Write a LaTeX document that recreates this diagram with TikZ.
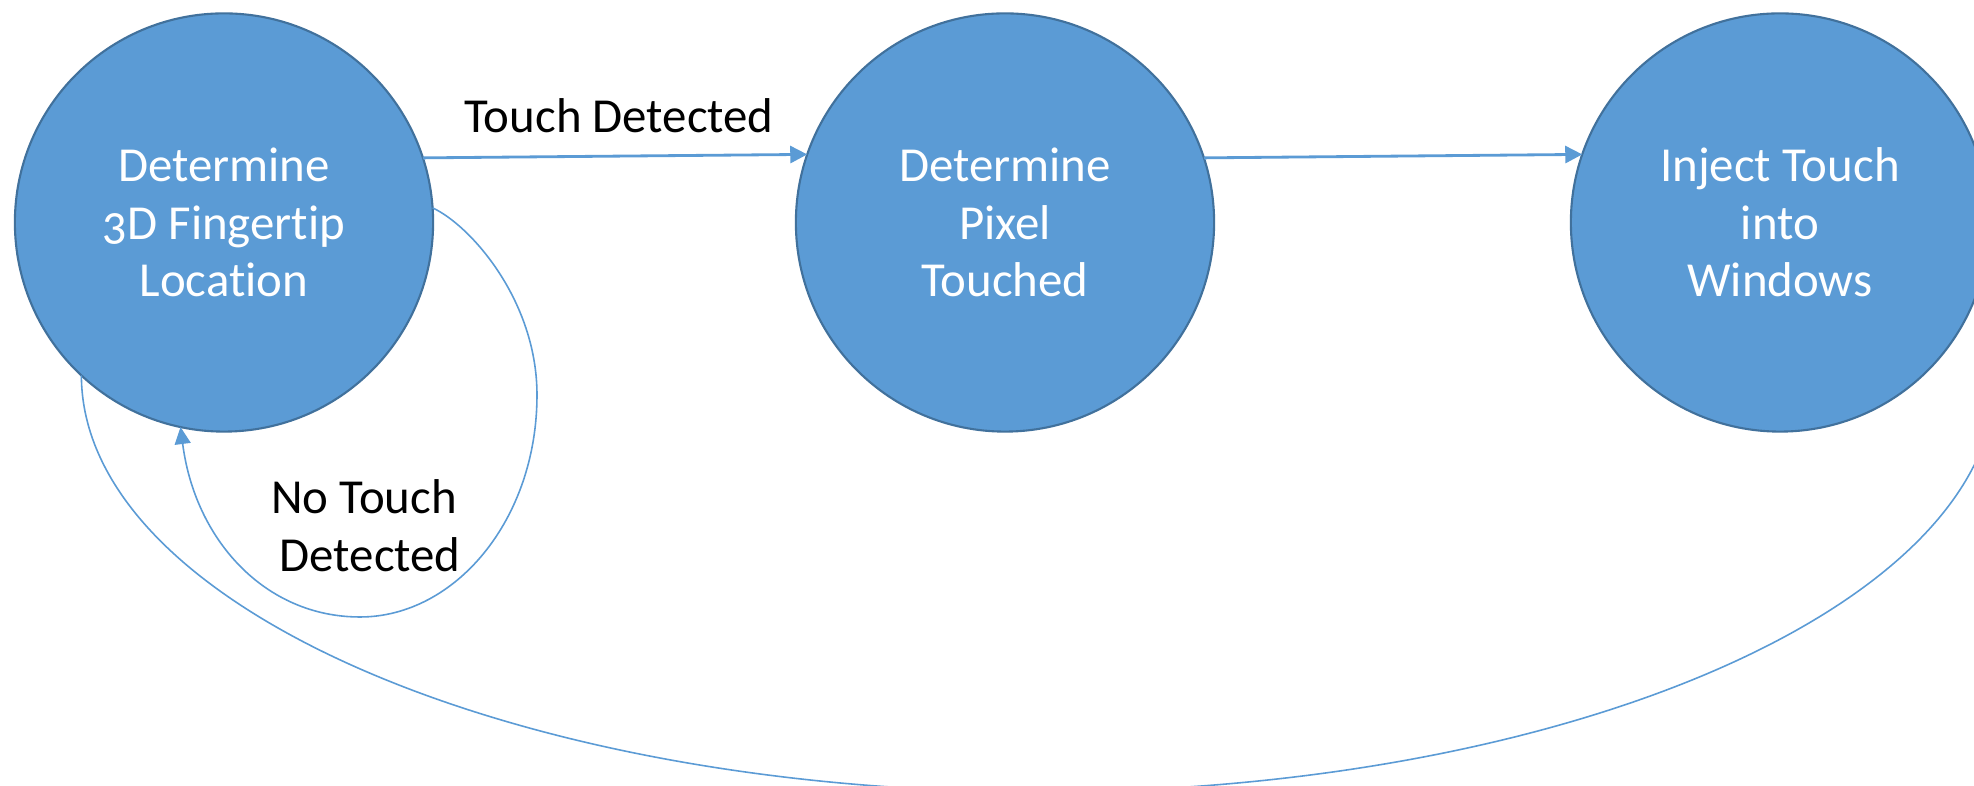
\documentclass[tikz,border=0pt]{standalone}
\usepackage{fontspec}
\setmainfont{Carlito}[Ligatures={NoCommon}]
\newfontfamily\statefont{Carlito}[Ligatures={NoCommon},Numbers=OldStyle]
\usetikzlibrary{arrows.meta}
\definecolor{fillblue}{HTML}{5B9BD5}
\definecolor{edgeblue}{HTML}{41719C}
\begin{document}
\begin{tikzpicture}[x=0.01cm,y=-0.01cm,
  state/.style={circle, fill=fillblue, draw=edgeblue, line width=0.6pt, minimum size=4.18cm, inner sep=0pt, outer sep=0pt, text=white, align=center, font=\statefont\fontsize{13.9}{16.4}\selectfont},
  conn/.style={draw=fillblue, line width=0.8pt, -{Triangle[length=1.7mm,width=1.7mm]}},
  loopconn/.style={draw=fillblue, line width=0.45pt, -{Triangle[length=1.7mm,width=1.6mm]}},
  bigconn/.style={draw=fillblue, line width=0.45pt},
  lbl/.style={text=black, font=\fontsize{13.9}{16.4}\selectfont, inner sep=0pt, align=center}]
\useasboundingbox (0,0) rectangle (1974,786);
\clip (0,0) rectangle (1974,786);
\fill[white] (0,0) rectangle (1974,786);

\node[state] (c1) at (224,222.5) {Determine\\3D Fingertip\\Location};
\node[state] (c2) at (1005,222.5) {Determine\\Pixel\\Touched};
\node[state] (c3) at (1780,222.5) {Inject Touch\\into\\Windows};

\draw[conn] (c1.18.9) -- (c2.161.1);
\node[lbl, anchor=base] (l1) at (619,133) {Touch Detected};

\draw[conn] (c2.18.6) -- (c3.161.1);

\draw[loopconn] (c1.4.9) .. controls (470,225) and (537,300) .. (537,395)
  .. controls (537,520) and (455,617) .. (360,617)
  .. controls (265,617) and (195,540) .. (c1.258.8);
\node[lbl] (l2) at (364,526) {No Touch\\ \hspace{0.25em}Detected};

\draw[bigconn] (c1.227.5) .. controls (82,605) and (510,792) .. (1039,792)
  .. controls (1568,792) and (1996,605) .. (1996,377);
\end{tikzpicture}
\end{document}
